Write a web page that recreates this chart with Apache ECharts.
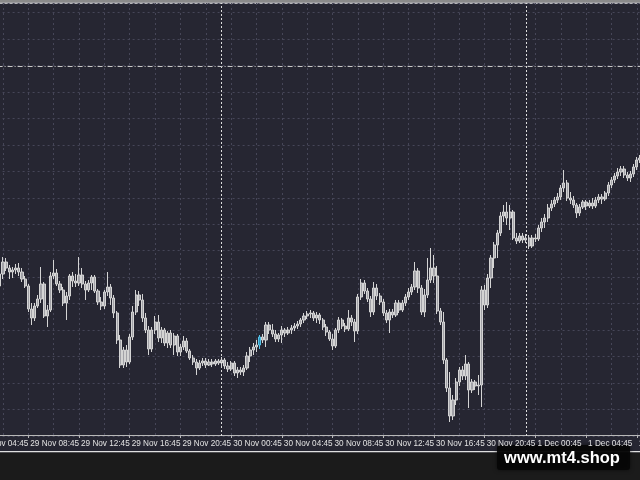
<!DOCTYPE html>
<html><head><meta charset="utf-8">
<script src="https://cdn.jsdelivr.net/npm/echarts@6/dist/echarts.min.js"></script>
<style>html,body{margin:0;padding:0;background:#262632;}#c{width:640px;height:480px;}</style>
</head><body><div id="c"></div>
<script>
// M15 bars starting 29 Nov 04:45
const startTime = Date.UTC(2024, 10, 29, 4, 45);
const barMinutes = 15;
const barCount = 210;
const firstVisibleBar = 7;
const monthNames = ['Jan','Feb','Mar','Apr','May','Jun','Jul','Aug','Sep','Oct','Nov','Dec'];

const opens = [150,162,174,168,164,166,168,164,157,150,
127,118,130,137,152,120,126,160,163,152,
146,133,140,160,155,153,161,152,146,153,
159,145,134,130,144,149,138,123,96,71,
86,74,99,124,141,136,118,106,87,106,
114,98,106,93,103,91,100,84,89,95,
85,78,74,68,73,75,71,74,72,75,
73,76,70,67,73,63,66,64,68,80,
86,89,91,99,96,111,106,102,97,101,
106,103,106,108,110,112,116,120,122,123,
118,121,116,109,104,97,90,106,116,110,
107,118,114,105,139,153,145,137,124,148,
140,134,123,116,124,121,133,126,133,139,
144,149,165,148,124,141,156,168,160,125,
114,76,48,20,36,54,66,60,72,46,
54,50,51,146,131,158,178,191,203,220,
224,218,224,198,195,200,196,198,190,198,
197,208,214,218,228,232,236,239,248,253,
238,236,231,223,229,234,230,233,230,236,
239,237,243,251,256,260,264,267,261,258,
262,269,276];
const closes = [162,174,168,164,166,168,164,157,150,127,
118,130,137,152,120,126,160,163,152,146,
133,140,160,155,153,161,152,146,153,159,
145,134,130,144,149,138,123,96,71,86,
74,99,124,141,136,118,106,87,106,114,
98,106,93,103,91,100,84,89,95,85,
78,74,68,73,75,71,74,72,75,73,
76,70,67,73,63,66,64,68,80,86,
89,91,99,96,111,106,102,97,101,106,
103,106,108,110,112,116,120,122,123,118,
121,116,109,104,97,90,106,116,110,107,
118,114,105,139,153,145,137,124,148,140,
134,123,116,124,121,133,126,133,139,144,
149,165,148,124,141,156,168,160,125,114,
76,48,20,36,54,66,60,72,46,54,
50,51,146,131,158,178,191,203,220,224,
218,224,198,195,200,196,198,190,198,197,
208,214,218,228,232,236,239,248,253,238,
236,231,223,229,234,230,233,230,236,239,
237,243,251,256,260,264,267,261,258,262,
269,276,278];
const lows = [146,157,165,157,158,162,160,154,148,124,
111,115,128,133,118,109,124,157,150,143,
130,116,136,149,149,150,148,136,144,146,
143,131,126,127,140,131,118,92,68,68,
69,72,96,121,130,114,103,81,84,102,
94,93,90,88,88,81,80,80,86,83,
76,71,61,66,70,68,70,69,70,71,
69,67,64,65,60,58,61,60,66,74,
81,84,87,93,89,102,99,94,94,93,
99,101,102,105,107,109,113,117,118,115,
113,112,106,100,95,86,88,103,107,104,
105,110,94,102,136,142,134,119,121,136,
131,120,113,103,118,119,123,124,130,136,
141,146,143,121,119,138,153,153,122,111,
72,44,14,16,31,50,56,56,28,43,
46,41,29,126,128,148,168,178,200,214,
211,206,196,192,193,193,193,187,188,194,
195,204,208,214,225,229,233,236,244,235,
232,228,218,220,227,226,228,227,228,233,
232,235,240,248,253,257,260,258,255,254,
259,266,273];
const highs = [164,179,178,171,169,172,173,168,160,152,
133,133,141,169,154,131,164,176,167,155,
149,144,162,164,162,179,168,155,156,161,
161,147,139,146,164,152,141,125,101,89,
91,102,130,146,145,142,123,110,109,120,
121,109,108,105,106,103,102,92,100,98,
87,81,77,76,78,78,77,77,77,77,
79,78,74,75,75,69,69,71,84,89,
93,96,101,102,114,114,112,106,103,110,
108,109,111,113,115,118,123,125,126,125,
124,123,118,112,106,102,108,119,118,113,
126,121,117,142,157,156,148,140,154,152,
143,137,126,127,127,136,136,136,142,148,
152,174,168,151,147,178,188,181,170,128,
124,78,64,41,58,69,70,81,74,57,
56,61,150,151,162,181,194,206,224,231,
234,231,226,203,203,203,202,201,201,202,
211,218,222,232,236,239,243,251,266,256,
244,240,233,232,236,236,236,238,239,242,
242,245,254,259,263,268,270,270,264,265,
272,279,281];

const highlightedBar = 89;          // the cyan candle
const separators = ['30 Nov 00:00', '1 Dec 00:00'];
const priceLine = 370;
const gridStep = 26.47;

function pad(n){ return (n < 10 ? '0' : '') + n; }
const categories = [];
for (let i = 0; i < barCount; i++) {
  const d = new Date(startTime + i * barMinutes * 60000);
  categories.push(d.getUTCDate() + ' ' + monthNames[d.getUTCMonth()] + ' ' + pad(d.getUTCHours()) + ':' + pad(d.getUTCMinutes()));
}
const data = [];
for (let i = 0; i < barCount; i++) {
  if (i < firstVisibleBar) { data.push('-'); continue; }
  const k = i - firstVisibleBar;
  const item = { value: [opens[k], closes[k], lows[k], highs[k]] };
  if (i === highlightedBar) item.itemStyle = { color: '#2a8fb8', color0: '#2a8fb8', borderColor: '#56c4ea', borderColor0: '#56c4ea' };
  data.push(item);
}

const chart = echarts.init(document.getElementById('c'), null, { renderer: 'canvas' });
chart.setOption({
  backgroundColor: '#262632',
  animation: false,
  grid: { left: -22.4, right: 0, top: 3, bottom: 44, containLabel: false, outerBoundsMode: 'none' },
  xAxis: {
    type: 'category',
    data: categories,
    boundaryGap: false,
    offset: -1,
    axisLine: { lineStyle: { color: '#b8b8b8', width: 1 } },
    axisTick: { interval: (i) => i % 16 === 0, length: 3, lineStyle: { color: '#b8b8b8' } },
    axisLabel: {
      interval: (i) => i % 16 === 0,
      align: 'left', margin: 5, padding: [0, 0, 0, 2],
      color: '#e2e2e2', fontSize: 8.2, fontFamily: 'Liberation Sans'
    },
    splitLine: { show: true, interval: (i) => i % 8 === 0, lineStyle: { color: '#464658', type: [2, 3], width: 1 } }
  },
  yAxis: {
    type: 'value', min: 0, max: 433, interval: gridStep, scale: false,
    axisLine: { show: false }, axisTick: { show: false }, axisLabel: { show: false },
    splitLine: { show: true, lineStyle: { color: '#464658', type: [2, 3], width: 1 } }
  },
  series: [{
    type: 'candlestick',
    data: data,
    barWidth: 2.6,
    itemStyle: { color: '#a2a2a8', color0: '#a2a2a8', borderColor: '#d4d4d4', borderColor0: '#d4d4d4', borderWidth: 1 },
    markLine: {
      silent: true, symbol: 'none', label: { show: false },
      data: [
        { xAxis: separators[0], lineStyle: { color: '#dcdcdc', type: [2, 2], width: 1 } },
        { xAxis: separators[1], lineStyle: { color: '#dcdcdc', type: [2, 2], width: 1 } },
        { yAxis: priceLine, lineStyle: { color: '#c8c8c8', type: [5, 2, 1, 2], width: 1 } }
      ]
    }
  }],
  graphic: [
    { type: 'rect', shape: { x: 0, y: 0, width: 640, height: 2.5 }, style: { fill: '#8a8a8a' }, silent: true },
    { type: 'rect', shape: { x: 0, y: 2.5, width: 640, height: 1.2 }, style: { fill: '#e4e4e4' }, silent: true },
    { type: 'rect', shape: { x: 0, y: 451, width: 640, height: 1.5 }, style: { fill: '#e0e0e0' }, silent: true },
    { type: 'rect', shape: { x: 0, y: 452.5, width: 640, height: 27.5 }, style: { fill: '#1b1b1b' }, silent: true },
    { type: 'rect', shape: { x: 497, y: 445, width: 133, height: 25, r: 3 }, style: { fill: 'rgba(6,6,6,0.93)', shadowBlur: 4, shadowColor: 'rgba(0,0,0,0.6)' }, silent: true },
    { type: 'text', x: 562, y: 458, style: { text: 'www.mt4.shop', fill: '#ffffff', font: 'bold 16.5px "Liberation Sans", Arial, sans-serif', align: 'center', verticalAlign: 'middle' }, silent: true }
  ]
});
</script>
</body></html>
